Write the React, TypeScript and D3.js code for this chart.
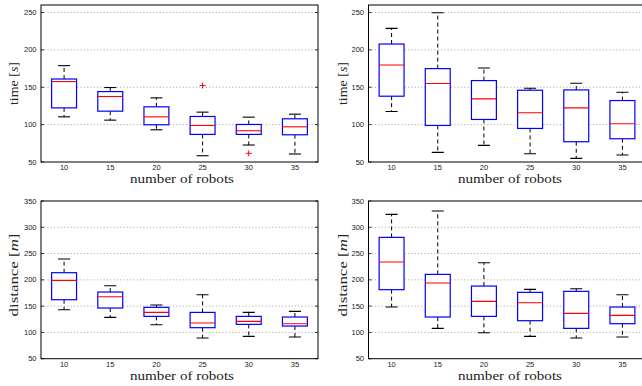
import React from "react";
import * as d3 from "d3";

const categories = ["10", "15", "20", "25", "30", "35"];

// Top-left: time, method A
const timeALow = [110.4, 106, 93.1, 58.4, 72.7, 60.7];
const timeAQ1 = [122.4, 118, 99.8, 86.9, 86.9, 86.4];
const timeAMed = [157.6, 137.6, 110.4, 98.9, 91.8, 97.1];
const timeAQ3 = [161, 144.2, 123.8, 110.9, 100.2, 107.8];
const timeAHigh = [178.9, 149.6, 135.8, 116.7, 110, 114];
const timeAOut: [string, number][] = [["25", 152.2], ["30", 61.6]];

// Top-right: time, method B
const timeBLow = [117.6, 62.9, 72.2, 61.1, 54.9, 59.3];
const timeBQ1 = [138, 98.9, 106.9, 94.9, 77.1, 81.1];
const timeBMed = [179.8, 154.9, 134.4, 115.8, 122.4, 101.1];
const timeBQ3 = [207.8, 174.9, 158.9, 146, 146.4, 132.2];
const timeBHigh = [228.7, 249.6, 175.8, 148.7, 155.3, 143.3];
const timeBOut: [string, number][] = [];

// Bottom-left: distance, method A
const distALow = [143.2, 128.6, 114.7, 89.3, 92.5, 91.2];
const distAQ1 = [162.2, 146.4, 130.5, 109, 115.3, 112.1];
const distAMed = [199, 167.9, 138.1, 117.9, 121, 116.6];
const distAQ3 = [213.6, 176.8, 147.7, 138.1, 130.5, 129.3];
const distAHigh = [239.6, 188.9, 152.1, 171.7, 138.1, 140];
const distAOut: [string, number][] = [];

// Bottom-right: distance, method B
const distBLow = [148.3, 107.7, 99.5, 92.5, 89.3, 91.2];
const distBQ1 = [181.3, 129.3, 130.5, 122.3, 107.7, 116.6];
const distBMed = [233.9, 193.9, 159.1, 156.5, 136.2, 132.4];
const distBQ3 = [280.8, 210.4, 188.2, 176.2, 178.1, 148.3];
const distBHigh = [324.6, 330.9, 232.6, 181.9, 183.2, 171.7];
const distBOut: [string, number][] = [];

const timeTicks = [50, 100, 150, 200, 250];
const distTicks = [50, 100, 150, 200, 250, 300, 350];

type Panel = {
  left: number; right: number; top: number; bottom: number;
  domain: [number, number]; ticks: number[];
  low: number[]; q1: number[]; med: number[]; q3: number[]; high: number[];
  out: [string, number][];
  ylabel: "time" | "distance";
  ylabX: number; ylabY: number; xlabX: number;
};

const panels: Panel[] = [
  { left: 41, right: 318, top: 5, bottom: 162, domain: [50, 260], ticks: timeTicks,
    low: timeALow, q1: timeAQ1, med: timeAMed, q3: timeAQ3, high: timeAHigh, out: timeAOut,
    ylabel: "time", ylabX: 17.5, ylabY: 83.5, xlabX: 182 },
  { left: 368.5, right: 645.5, top: 5, bottom: 162, domain: [50, 260], ticks: timeTicks,
    low: timeBLow, q1: timeBQ1, med: timeBMed, q3: timeBQ3, high: timeBHigh, out: timeBOut,
    ylabel: "time", ylabX: 346.5, ylabY: 83.5, xlabX: 510 },
  { left: 41, right: 318, top: 201, bottom: 358.7, domain: [50, 350], ticks: distTicks,
    low: distALow, q1: distAQ1, med: distAMed, q3: distAQ3, high: distAHigh, out: distAOut,
    ylabel: "distance", ylabX: 17.5, ylabY: 275, xlabX: 182 },
  { left: 368.5, right: 645.5, top: 201, bottom: 358.7, domain: [50, 350], ticks: distTicks,
    low: distBLow, q1: distBQ1, med: distBMed, q3: distBQ3, high: distBHigh, out: distBOut,
    ylabel: "distance", ylabX: 346.5, ylabY: 275, xlabX: 510 },
];

const SANS = "'Liberation Sans', Arial, sans-serif";
const SERIF = "'Liberation Serif', 'DejaVu Serif', serif";

function PanelView({ p, idx }: { p: Panel; idx: number }) {
  const x = d3.scalePoint<string>().domain(categories).range([p.left, p.right]).padding(0.5);
  const y = d3.scaleLinear().domain(p.domain).range([p.bottom, p.top]);
  const step = x.step();
  const bw = step * 0.54;
  const cw = step * 0.26;
  const clipId = `clip${idx}`;
  return (
    <g>
      <defs>
        <clipPath id={clipId}>
          <rect x={p.left} y={p.top} width={p.right - p.left} height={p.bottom - p.top} />
        </clipPath>
      </defs>
      <rect x={p.left} y={p.top} width={p.right - p.left} height={p.bottom - p.top} fill="#fff" />
      {/* grid */}
      {p.ticks.filter((t) => t > p.domain[0] && t < p.domain[1]).map((t) => (
        <line key={"g" + t} x1={p.left} x2={p.right} y1={y(t)} y2={y(t)}
          stroke="#8a8a8a" strokeWidth={0.8} strokeDasharray="1,2.3" />
      ))}
      <g clipPath={`url(#${clipId})`}>
        {categories.map((c, i) => {
          const cx = x(c)!;
          return (
            <g key={c}>
              <line x1={cx} x2={cx} y1={y(p.q3[i])} y2={y(p.high[i])} stroke="#000" strokeWidth={1} strokeDasharray="4,3" />
              <line x1={cx} x2={cx} y1={y(p.q1[i])} y2={y(p.low[i])} stroke="#000" strokeWidth={1} strokeDasharray="4,3" />
              <line x1={cx - cw / 2} x2={cx + cw / 2} y1={y(p.high[i])} y2={y(p.high[i])} stroke="#000" strokeWidth={1.1} />
              <line x1={cx - cw / 2} x2={cx + cw / 2} y1={y(p.low[i])} y2={y(p.low[i])} stroke="#000" strokeWidth={1.1} />
              <rect x={cx - bw / 2} y={y(p.q3[i])} width={bw} height={y(p.q1[i]) - y(p.q3[i])}
                fill="#fff" stroke="#0000ff" strokeWidth={1.2} />
              <line x1={cx - bw / 2} x2={cx + bw / 2} y1={y(p.med[i])} y2={y(p.med[i])} stroke="#ff0000" strokeWidth={1.1} />
            </g>
          );
        })}
        {p.out.map(([c, v], k) => {
          const cx = x(c)!;
          const cy = y(v);
          return (
            <g key={"o" + k} stroke="#ff0000" strokeWidth={1}>
              <line x1={cx - 3} x2={cx + 3} y1={cy} y2={cy} />
              <line x1={cx} x2={cx} y1={cy - 3} y2={cy + 3} />
            </g>
          );
        })}
      </g>
      {/* frame */}
      <rect x={p.left} y={p.top} width={p.right - p.left} height={p.bottom - p.top} fill="none" stroke="#000" strokeWidth={1} />
      {/* ticks */}
      {p.ticks.map((t) => (
        <g key={"t" + t}>
          <line x1={p.left} x2={p.left + 3} y1={y(t)} y2={y(t)} stroke="#000" strokeWidth={0.8} />
          <line x1={p.right} x2={p.right - 3} y1={y(t)} y2={y(t)} stroke="#000" strokeWidth={0.8} />
          <text x={p.left - 4.5} y={y(t)} dy="0.35em" textAnchor="end" fontFamily={SANS} fontSize={7.5} fill="#222">{t}</text>
        </g>
      ))}
      {categories.map((c) => (
        <text key={"x" + c} x={x(c)!} y={p.bottom + 5.2} dy="0.35em" textAnchor="middle" fontFamily={SANS} fontSize={7.5} fill="#222">{c}</text>
      ))}
      <text x={p.xlabX} y={p.bottom + 20.8} textAnchor="middle" fontFamily={SERIF} fontSize={13} fill="#222"
        textLength={104} lengthAdjust="spacingAndGlyphs">number of robots</text>
      <text transform={`translate(${p.ylabX},${p.ylabY}) rotate(-90)`} textAnchor="middle" fontFamily={SERIF} fontSize={13} fill="#222"
        textLength={p.ylabel === "time" ? 43 : 83} lengthAdjust="spacingAndGlyphs">
        {p.ylabel === "time" ? (
          <>time [<tspan fontStyle="italic">s</tspan>]</>
        ) : (
          <>distance [<tspan fontStyle="italic">m</tspan>]</>
        )}
      </text>
    </g>
  );
}

export default function App() {
  return (
    <svg width={642} height={386} style={{ position: "absolute", left: 0, top: 0, background: "#fff" }}>
      <rect x={0} y={0} width={642} height={386} fill="#fff" />
      {panels.map((p, i) => (
        <PanelView key={i} p={p} idx={i} />
      ))}
    </svg>
  );
}
